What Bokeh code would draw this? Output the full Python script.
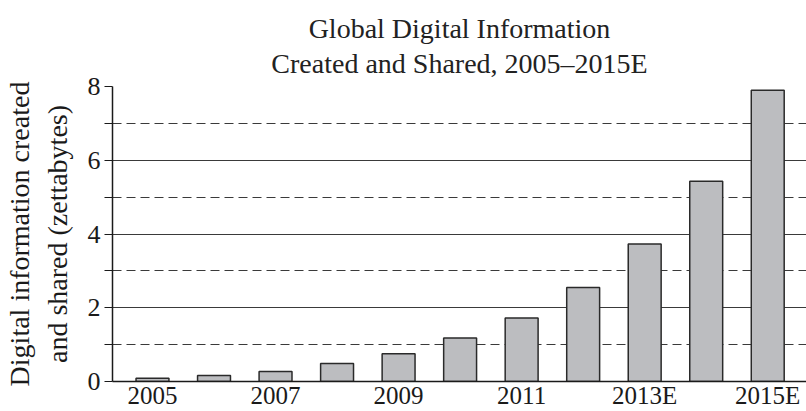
from bokeh.plotting import figure
from bokeh.models import FixedTicker, Range1d, Title, ColumnDataSource
from bokeh.embed import file_html
from bokeh.resources import INLINE

years = [2005, 2006, 2007, 2008, 2009, 2010, 2011, 2012, 2013, 2014, 2015]
values = [0.09, 0.16, 0.27, 0.49, 0.75, 1.18, 1.72, 2.55, 3.73, 5.43, 7.90]
x_tick_years = [2005, 2007, 2009, 2011, 2013, 2015]
x_tick_labels = ["2005", "2007", "2009", "2011", "2013E", "2015E"]
y_major = [0, 2, 4, 6, 8]
y_minor = [1, 3, 5, 7]

FONT = "Liberation Serif"

title = Title(text="Global Digital Information\nCreated and Shared, 2005\u20132015E",
              align="center", text_align="center", text_font=FONT, text_font_size="28px",
              text_font_style="normal", text_color="#222222",
              text_line_height=1.13, standoff=14)

p = figure(width=806, height=411, output_backend="svg", toolbar_location=None,
           title=title, x_range=Range1d(2004.35, 2015.63), y_range=Range1d(0, 8),
           min_border_left=112, min_border_right=0, min_border_top=86, min_border_bottom=28)

src = ColumnDataSource(dict(x=years, top=values))
p.vbar(x="x", top="top", bottom=0, width=0.535, source=src,
       fill_color="#bcbdc0", line_color="#2a2a2a", line_width=1.5)

p.outline_line_color = None
p.background_fill_color = "white"

p.xgrid.visible = False
p.ygrid.ticker = FixedTicker(ticks=y_major, minor_ticks=y_minor)
p.ygrid.grid_line_color = "#3a3a3a"
p.ygrid.grid_line_width = 1.2
p.ygrid.minor_grid_line_color = "#3a3a3a"
p.ygrid.minor_grid_line_width = 1.2
p.ygrid.minor_grid_line_dash = "9 5"
p.ygrid.level = "underlay"

xa = p.xaxis[0]
xa.ticker = FixedTicker(ticks=x_tick_years)
xa.major_label_overrides = {y: l for y, l in zip(x_tick_years, x_tick_labels)}
xa.major_tick_out = 0
xa.major_tick_in = 0
xa.minor_tick_out = 0
xa.minor_tick_in = 0
xa.axis_line_color = "#1a1a1a"
xa.axis_line_width = 1.5
xa.major_label_text_font = FONT
xa.major_label_text_font_size = "25px"
xa.major_label_text_color = "#1a1a1a"
xa.major_label_standoff = 0

ya = p.yaxis[0]
ya.ticker = FixedTicker(ticks=y_major, minor_ticks=y_minor)
ya.major_tick_out = 8
ya.major_tick_in = 0
ya.minor_tick_out = 8
ya.minor_tick_in = 0
ya.major_tick_line_color = "#1a1a1a"
ya.minor_tick_line_color = "#1a1a1a"
ya.major_tick_line_width = 1.2
ya.minor_tick_line_width = 1.2
ya.axis_line_color = "#1a1a1a"
ya.axis_line_width = 1.5
ya.major_label_text_font = FONT
ya.major_label_text_font_size = "26px"
ya.major_label_text_color = "#1a1a1a"
ya.major_label_standoff = 4
ya.axis_label = "Digital information created\nand shared (zettabytes)"
ya.axis_label_text_font = FONT
ya.axis_label_text_font_size = "28px"
ya.axis_label_text_font_style = "normal"
ya.axis_label_text_color = "#1a1a1a"
ya.axis_label_text_line_height = 1.2
ya.axis_label_standoff = 12

open("out.html", "w").write(file_html(p, INLINE))
